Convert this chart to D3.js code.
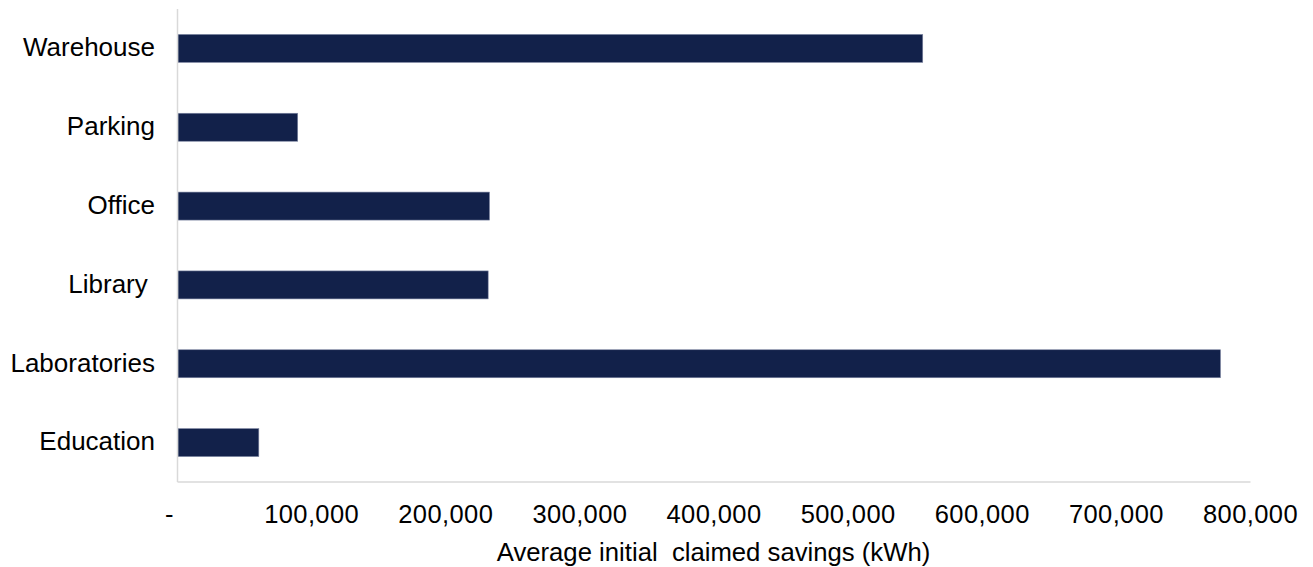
<!DOCTYPE html>
<html>
<head>
<meta charset="utf-8">
<script src="https://cdn.jsdelivr.net/npm/d3@7"></script>
<style>
  html, body { margin: 0; padding: 0; background: #fff; }
  svg { display: block; }
  text { font-family: "Liberation Sans", Arial, sans-serif; fill: #000; }
</style>
</head>
<body>
<svg id="chart" width="1313" height="567"></svg>
<script>
const categories = ["Warehouse", "Parking", "Office", "Library ", "Laboratories", "Education"];
const savings = [556000, 90000, 233000, 232000, 778000, 61000];
const tickValues = [0, 100000, 200000, 300000, 400000, 500000, 600000, 700000, 800000];
const xTitle = "Average initial  claimed savings (kWh)";

const svg = d3.select("#chart");
const mLeft = 177, mRight = 1250, mTop = 8.5, mBottom = 481.5;

const x = d3.scaleLinear().domain([0, 800000]).range([mLeft, mRight]);
const y = d3.scaleBand().domain(categories).range([mTop, mBottom])
  .paddingInner(0.645).paddingOuter(0.3225);

// bars
svg.append("g").selectAll("rect")
  .data(categories.map((c, i) => ({ c, v: savings[i] })))
  .join("rect")
  .attr("x", x(0) + 1)
  .attr("y", d => y(d.c) + 0.5)
  .attr("width", d => x(d.v) - x(0) - 1)
  .attr("height", y.bandwidth())
  .attr("fill", "#12214a")
  .attr("stroke", "#7d86a2")
  .attr("stroke-width", 0.6);

// x axis
const fmt = d3.format(",");
const xAxis = d3.axisBottom(x).tickValues(tickValues).tickSize(0).tickPadding(0)
  .tickFormat(d => d === 0 ? "-" : fmt(d));
const gx = svg.append("g").attr("transform", `translate(0,${mBottom})`).call(xAxis);
gx.select(".domain").attr("stroke", "#d9d9d9").attr("stroke-width", 1.5);
gx.selectAll(".tick text")
  .attr("font-size", 25.5)
  .attr("font-family", "Liberation Sans, Arial, sans-serif")
  .attr("fill", "#000")
  .style("letter-spacing", "0.4px")
  .attr("y", 41).attr("dy", 0)
  .attr("dx", d => d === 0 ? -8 : 0);

// y axis
const yAxis = d3.axisLeft(y).tickSize(0).tickPadding(22);
const gy = svg.append("g").attr("transform", `translate(${mLeft},0)`).call(yAxis);
gy.select(".domain").attr("stroke", "#d9d9d9").attr("stroke-width", 1.5);
gy.selectAll(".tick text")
  .attr("font-size", 26)
  .attr("font-family", "Liberation Sans, Arial, sans-serif")
  .attr("fill", "#000")
  .attr("xml:space", "preserve")
  .style("white-space", "pre")
  .attr("dy", "0.32em");

// x title
svg.append("text")
  .attr("x", (mLeft + mRight) / 2)
  .attr("y", 561)
  .attr("text-anchor", "middle")
  .attr("font-size", 25.7)
  .style("white-space", "pre")
  .text(xTitle);
</script>
</body>
</html>
